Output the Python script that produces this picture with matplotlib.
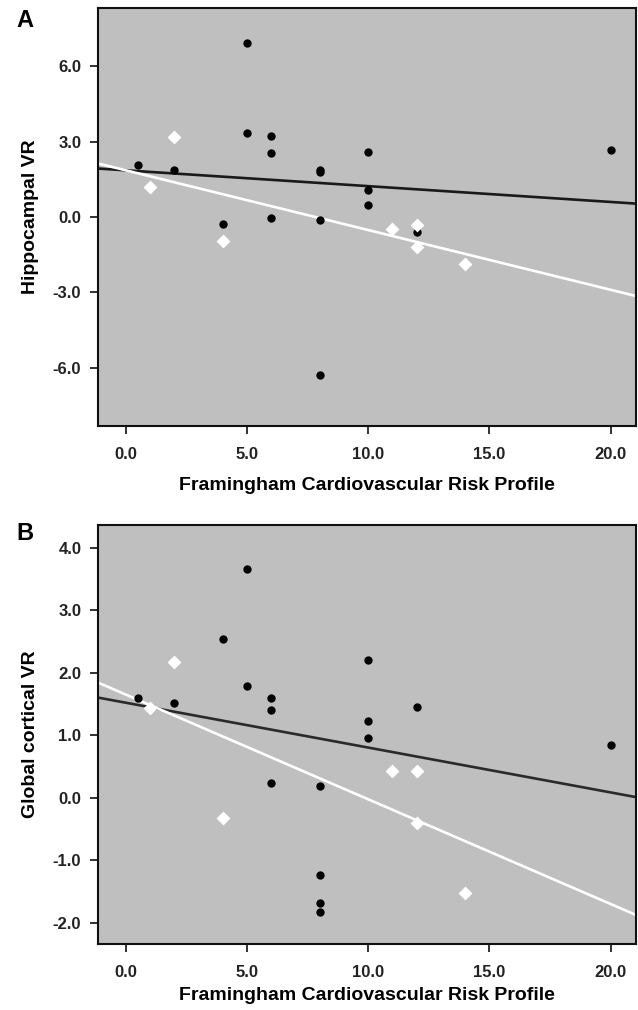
import numpy as np
import matplotlib
matplotlib.use("Agg")
import matplotlib.pyplot as plt
import matplotlib.ticker as mticker

plt.rcParams['font.family'] = ['Liberation Sans', 'DejaVu Sans']
plt.rcParams['font.weight'] = 'bold'

# Panel A - Hippocampal VR
a_black_x = [0.5, 2, 5, 5, 6, 6, 6, 4, 8, 8, 8, 8, 10, 10, 10, 12, 20]
a_black_y = [2.06, 1.89, 6.94, 3.35, 3.22, 2.54, -0.05, -0.28, 1.89, 1.78, -0.13, -6.29, 2.59, 1.08, 0.48, -0.61, 2.68]
a_white_x = [2, 1, 4, 11, 12, 12, 14]
a_white_y = [3.20, 1.20, -0.96, -0.49, -0.31, -1.20, -1.86]
a_black_fit = (1.86, -0.063)   # intercept, slope
a_white_fit = (1.86, -0.238)

# Panel B - Global cortical VR
b_black_x = [0.5, 2, 4, 5, 5, 6, 6, 6, 8, 8, 8, 8, 10, 10, 10, 12, 20]
b_black_y = [1.60, 1.52, 2.53, 3.65, 1.78, 1.59, 1.40, 0.23, 0.19, -1.24, -1.69, -1.83, 2.20, 1.23, 0.95, 1.45, 0.85]
b_white_x = [2, 1, 4, 11, 12, 12, 14]
b_white_y = [2.17, 1.44, -0.32, 0.42, 0.42, -0.41, -1.53]
b_black_fit = (1.518, -0.0717)
b_white_fit = (1.648, -0.1674)

x_ticks = [0, 5, 10, 15, 20]
a_y_ticks = [-6, -3, 0, 3, 6]
b_y_ticks = [-2, -1, 0, 1, 2, 3, 4]

W, H = 638, 1010
fig = plt.figure(figsize=(W / 100, H / 100), dpi=100)
ax_a = fig.add_axes([98 / W, 1 - 426 / H, 538 / W, 418 / H])
ax_b = fig.add_axes([98 / W, 1 - 944 / H, 538 / W, 419 / H])

panels = [
    (ax_a, a_black_x, a_black_y, a_white_x, a_white_y, a_black_fit, a_white_fit,
     a_y_ticks, (-8.33, 8.33), "Hippocampal VR", "A", 20.5, "#1a1a1a", 11),
    (ax_b, b_black_x, b_black_y, b_white_x, b_white_y, b_black_fit, b_white_fit,
     b_y_ticks, (-2.34, 4.36), "Global cortical VR", "B", 533, "#2a2a2a", 5),
]

for ax, bx, by, wx, wy, bfit, wfit, yt, ylim, ylabel, tag, tag_y, lcol, xpad in panels:
    ax.set_facecolor("#bfbfbf")
    ax.set_xlim(-1.15, 21.05)
    ax.set_ylim(*ylim)

    xs = np.array(ax.get_xlim())
    ax.plot(xs, bfit[0] + bfit[1] * xs, color=lcol, lw=1.9, zorder=2)
    ax.plot(xs, wfit[0] + wfit[1] * xs, color="white", lw=1.9, zorder=2)

    ax.scatter(bx, by, s=36, color="black", marker="o", zorder=3, linewidths=0)
    ax.scatter(wx, wy, s=50, color="white", marker="D", zorder=3, linewidths=0)

    ax.set_xticks(x_ticks)
    ax.set_yticks(yt)
    ax.xaxis.set_major_formatter(mticker.FormatStrFormatter("%.1f"))
    ax.yaxis.set_major_formatter(mticker.FormatStrFormatter("%.1f"))
    ax.tick_params(direction="out", length=6, width=1.3, labelsize=12, pad=6, colors="#222222")
    ax.tick_params(axis="x", pad=9)
    for lbl in ax.get_xticklabels() + ax.get_yticklabels():
        lbl.set_fontweight("bold")
    for sp in ax.spines.values():
        sp.set_linewidth(1.5)
        sp.set_color("#111111")

    ax.set_ylabel(ylabel, fontsize=14, fontweight="bold", labelpad=10)
    ax.set_xlabel("Framingham Cardiovascular Risk Profile", fontsize=14, fontweight="bold", labelpad=xpad)
    fig.text(25 / W, 1 - tag_y / H, tag, fontsize=17, fontweight="bold", va="center", ha="center")

fig.savefig("out.png", dpi=100, facecolor="white")
